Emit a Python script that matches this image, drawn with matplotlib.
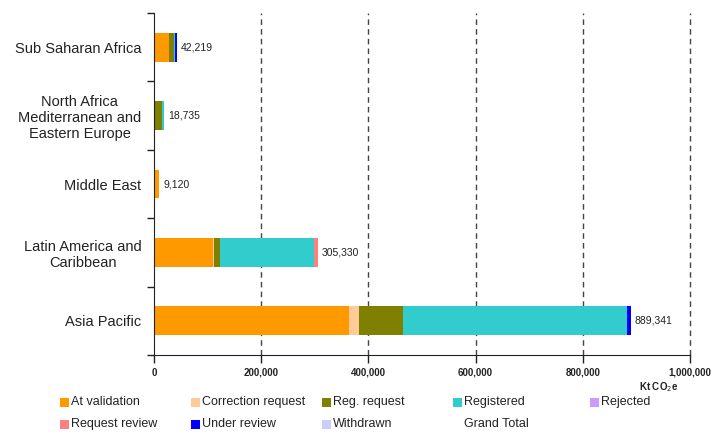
import numpy as np
import matplotlib
matplotlib.use("Agg")
import matplotlib.pyplot as plt
from matplotlib.patches import Rectangle

plt.rcParams['font.family'] = ['Liberation Sans', 'DejaVu Sans']

# regions, bottom to top
regions = ['Asia Pacific', 'Latin America and\nCaribbean', 'Middle East',
           'North Africa\nMediterranean and\nEastern Europe', 'Sub Saharan Africa']
status = ['At validation', 'Correction request', 'Reg. request', 'Registered',
          'Rejected', 'Request review', 'Under review', 'Withdrawn']
colors = ['#FF9900', '#FFCC99', '#808000', '#33CCCC',
          '#CC99FF', '#FF8080', '#0000FF', '#CCCCFF']

at_validation = [364200, 110500, 9120, 1500, 28000]
correction_request = [18600, 1000, 0, 0, 500]
reg_request = [81200, 11700, 0, 13500, 9500]
registered = [418800, 174630, 0, 3735, 2000]
rejected = [0, 0, 0, 0, 0]
request_review = [0, 7500, 0, 0, 0]
under_review = [6541, 0, 0, 0, 2219]
withdrawn = [0, 0, 0, 0, 0]
grand_total = [889341, 305330, 9120, 18735, 42219]

series = [at_validation, correction_request, reg_request, registered,
          rejected, request_review, under_review, withdrawn]

W, H = 716, 432
fig = plt.figure(figsize=(W / 100, H / 100), dpi=100)
ax = fig.add_axes([154 / W, 1 - 355 / H, 536 / W, 342 / H])

y = np.arange(len(regions))
left = np.zeros(len(regions))
for vals, c in zip(series, colors):
    ax.barh(y, vals, left=left, height=0.42, color=c, edgecolor='none')
    left += np.array(vals)

for yi, tot in zip(y, grand_total):
    ax.annotate(f"{tot:,}", (tot, yi), xytext=(3, 0), textcoords='offset points',
                va='center', ha='left', fontsize=7.5, color='#222222')

ax.set_xlim(0, 1000000)
ax.set_ylim(-0.5, len(regions) - 0.5)
ax.set_xticks(np.arange(0, 1000001, 200000))
ax.set_xticklabels([f"{v:,}" for v in range(0, 1000001, 200000)],
                   fontsize=7, fontweight='bold', color='#222222')
ax.tick_params(axis='x', length=6, width=1, color='#222222', pad=3)
ax.set_yticks(y)
ax.set_yticklabels(regions, fontsize=10.5, multialignment='center', color='#222222')
ax.set_yticks(np.arange(-0.5, len(regions), 1), minor=True)
ax.tick_params(axis='y', which='major', length=0, pad=9)
ax.tick_params(axis='y', which='minor', length=5, width=1, direction='out',
               color='#222222')

for v in range(200000, 1000001, 200000):
    ax.axvline(v, color='#444444', linestyle=(0, (4, 3)), linewidth=1,
               zorder=0, clip_on=False)

for s in ['top', 'right']:
    ax.spines[s].set_visible(False)
ax.spines['left'].set_color('#222222')
ax.spines['bottom'].set_color('#222222')

fig.text(639 / W, 1 - 387 / H, 'Kt CO$_2$e', fontsize=7, fontweight='bold',
         color='#222222', va='center', ha='left')

# legend, laid out as in the original (5 columns, 2 rows)
col_x = [60, 191, 322, 453, 590]
row_y = [402, 424]
entries = list(zip(status, colors)) + [('Grand Total', None)]
for i, (name, c) in enumerate(entries):
    cx = col_x[i % 5]
    cy = row_y[i // 5]
    if c is not None:
        fig.add_artist(Rectangle((cx / W, 1 - (cy + 5) / H), 9 / W, 9 / H,
                                 transform=fig.transFigure, facecolor=c,
                                 edgecolor='none'))
    fig.text((cx + 11) / W, 1 - cy / H, name, fontsize=9, color='#222222',
             va='center', ha='left')

fig.savefig('out.png', dpi=100)
